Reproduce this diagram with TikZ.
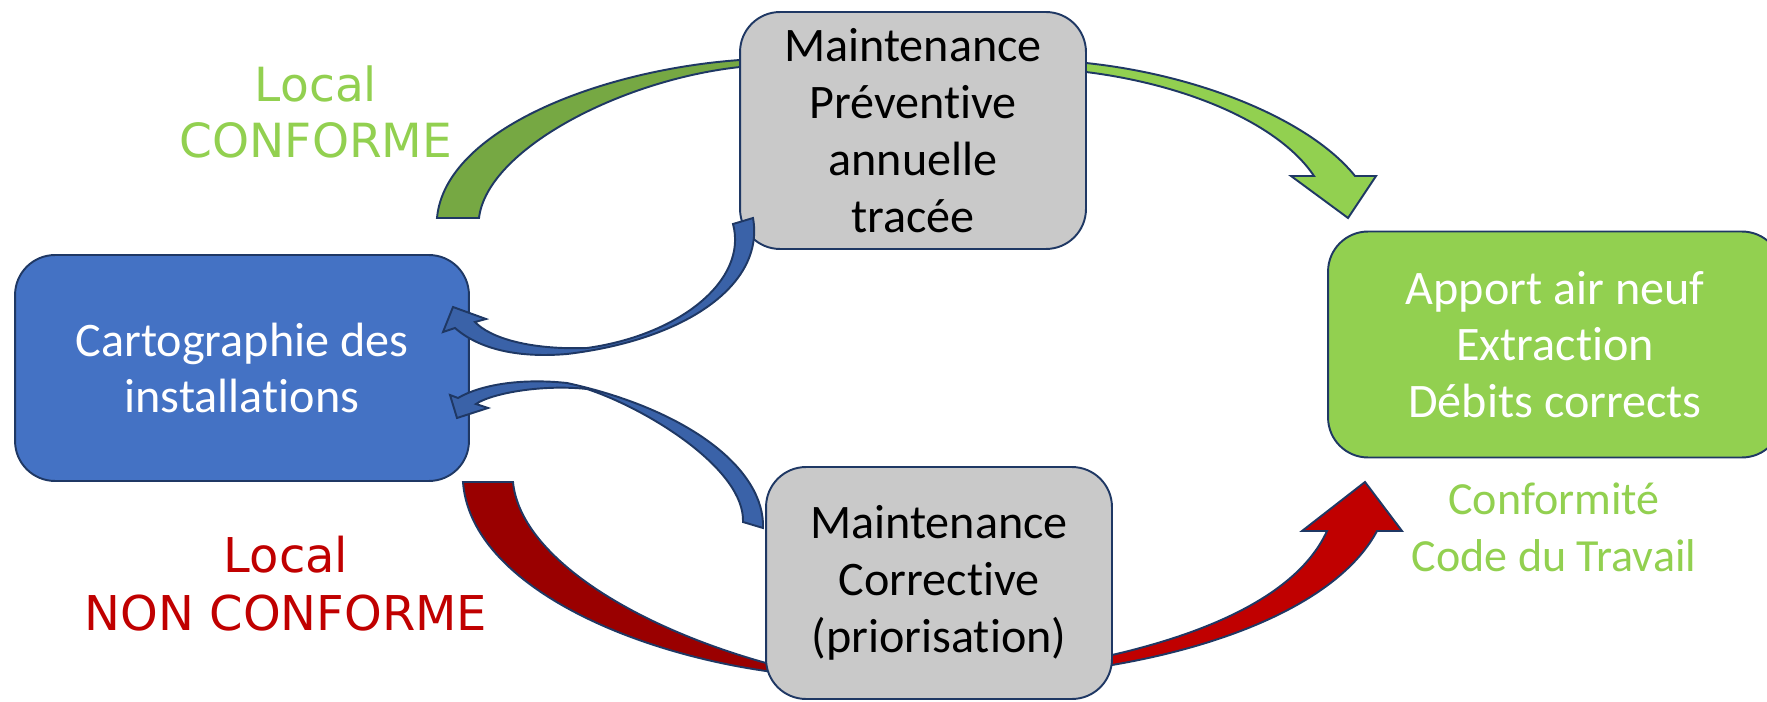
\documentclass[tikz,border=0pt]{standalone}
\usepackage{fontspec}
\setmainfont{Carlito}[Ligatures=NoCommon]
\newfontfamily\verdfont{DejaVu Sans}
\usetikzlibrary{positioning}
\definecolor{navy}{HTML}{1F3864}
\definecolor{boxblue}{HTML}{4472C4}
\definecolor{arrowblue}{HTML}{3A62A8}
\definecolor{boxgray}{HTML}{C9C9C9}
\definecolor{lightgreen}{HTML}{92D050}
\definecolor{darkgreen}{HTML}{76A843}
\definecolor{brightred}{HTML}{C00000}
\definecolor{darkred}{HTML}{9A0000}
\pgfdeclarelayer{back}
\pgfsetlayers{back,main}

\begin{document}
\begin{tikzpicture}[x=0.02cm, y=-0.02cm,
	box/.style={draw=navy, line width=1.1pt, rounded corners=0.8cm, align=center, inner sep=2pt, font=\fontsize{27.4}{32.3}\selectfont},
	graybox/.style={box, fill=boxgray, minimum width=6.92cm},
	colbox/.style={box, text=white, minimum width=9.08cm, minimum height=4.52cm},
	blockarrow/.style={draw=navy, line width=1.1pt, line join=miter},
	lbl/.style={align=center, inner sep=0pt}]
		\useasboundingbox (0,0) rectangle (1767,702);
		
		% boxes
		\node[graybox, minimum height=4.74cm] (prev) at (913,130.5) {Maintenance\\Préventive\\annuelle\\tracée};
		\node[colbox, fill=boxblue] (carto) at (242,368) {Cartographie des\\installations};
		\node[graybox, minimum height=4.64cm] (corr) at (939,583) {Maintenance\\Corrective\\(priorisation)};
		\node[colbox, fill=lightgreen] (conf) at (1555,344.5) {Apport air neuf\\Extraction\\Débits corrects};
		
		% labels:
		\node[lbl, text=lightgreen, font=\verdfont\fontsize{26.8}{31.7}\selectfont] (okLbl) at (316,112) {Local\\CONFORME};
		\node[lbl, text=brightred, font=\verdfont\fontsize{27.3}{32.9}\selectfont] (nokLbl) at (286,584) {Local\\NON CONFORME};
		\node[lbl, text=lightgreen, font=\fontsize{26.2}{32.3}\selectfont] (lawLbl) at (1554,527.5) {Conformité\\Code du Travail};
		
		% green and red arrows, behind the boxes
		\begin{pgfonlayer}{back}
			\filldraw[blockarrow, fill=darkgreen] (437,218) .. controls (445,130) and (600,70) .. (740,60) -- (750,60)
				-- (750,67) -- (740,67) .. controls (620,80) and (487,150) .. (479,218) -- cycle; %carto -> prev
			\filldraw[blockarrow, fill=lightgreen] (1075,63) -- (1086,63) .. controls (1200,75) and (1310,120) .. (1355,176)
				-- (1376,176) -- (1348,218) -- (1291,176) -- (1314,176)
				.. controls (1280,125) and (1190,85) .. (1086,72) -- (1075,72) -- cycle; %prev -> conf
			\filldraw[blockarrow, fill=darkred] (463,482) .. controls (470,580) and (620,650) .. (766,671) -- (785,673)
				-- (785,664) -- (766,663) .. controls (630,625) and (520,555) .. (513,482) -- cycle; %carto -> corr
			\filldraw[blockarrow, fill=brightred] (1100,656) -- (1112,655) .. controls (1220,630) and (1300,590) .. (1327,531)
				-- (1302,531) -- (1365,482) -- (1402,531) -- (1377,531)
				.. controls (1340,600) and (1230,645) .. (1112,665) -- (1100,666) -- cycle; %corr -> conf
		\end{pgfonlayer}
		
		% blue return arrows
		\filldraw[blockarrow, fill=arrowblue] (733,224) -- (753,218)
			.. controls (765,285) and (685,340) .. (567,354)
			.. controls (520,358) and (480,350) .. (455,328)
			-- (443,332) -- (453,307) -- (486,319) -- (475,322)
			.. controls (490,338) and (530,350) .. (587,348)
			.. controls (680,335) and (748,280) .. (733,224) -- cycle; %prev -> carto
		\filldraw[blockarrow, fill=arrowblue] (743,522) -- (763,528)
			.. controls (765,470) and (690,410) .. (567,383)
			.. controls (520,378) and (480,385) .. (458,398)
			-- (450,395) -- (457,418) -- (488,408) -- (476,404)
			.. controls (490,394) and (540,384) .. (587,389)
			.. controls (650,410) and (745,470) .. (743,522) -- cycle; %corr -> carto
	\end{tikzpicture}
\end{document}
